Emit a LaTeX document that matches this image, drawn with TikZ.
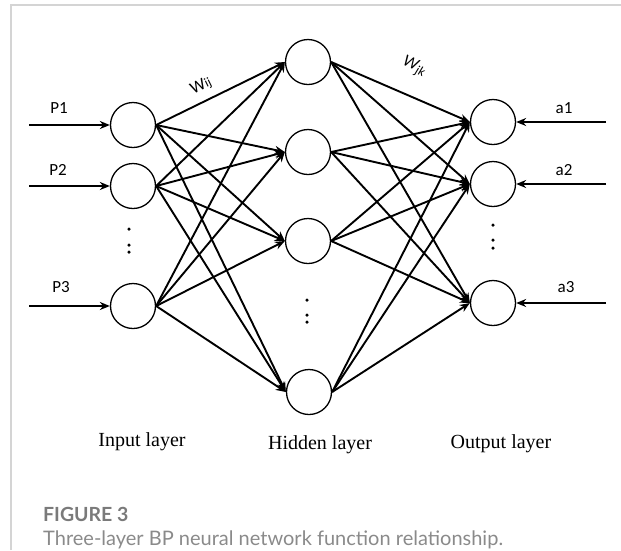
\documentclass[tikz,border=0pt]{standalone}
\usepackage{fontspec}
\setmainfont{Liberation Serif}
\newfontfamily\calfont{Carlito}
\newfontfamily\capfont{Lato}
\usetikzlibrary{arrows.meta}
\definecolor{framegray}{HTML}{D4D4D4}
\definecolor{capgray}{HTML}{8A8A8A}
\definecolor{headgray}{HTML}{7A7A7A}
\begin{document}
\begin{tikzpicture}[x=1pt,y=-1pt,
 neuron/.style={circle,draw,line width=1.3pt,minimum size=45pt,inner sep=0pt},
 conn/.style={line width=1.9pt,-{Stealth[length=10pt,width=8pt]}},
 lbl/.style={font=\calfont\fontsize{17}{19}\selectfont,inner sep=0pt},
 layer/.style={font=\fontsize{20}{24}\selectfont,inner sep=0pt},
 dotc/.style={fill,circle,inner sep=0pt,minimum size=3.5pt}]
\useasboundingbox (0,0) rectangle (621,550);
\draw[line width=1.5pt, color=framegray] (11,550) -- (11,5) -- (621,5);
% neurons
\node[neuron] (i1) at (133,125) {};
\node[neuron] (i2) at (133,186) {};
\node[neuron] (i3) at (133,306) {};
\node[neuron] (h1) at (308,62) {};
\node[neuron] (h2) at (308,152) {};
\node[neuron] (h3) at (308,241) {};
\node[neuron] (h4) at (309,392) {};
\node[neuron] (o1) at (493,122) {};
\node[neuron] (o2) at (493,184) {};
\node[neuron] (o3) at (493,303) {};
% connections
\foreach \a in {i1,i2,i3}
  \foreach \b in {h1,h2,h3,h4}
    \draw[conn] (\a.east) -- (\b.west);
\foreach \a in {h1,h2,h3,h4}
  \foreach \b in {o1,o2,o3}
    \draw[conn] (\a.east) -- (\b.west);
% inputs
\coordinate (p1) at (29,125);
\coordinate (p2) at (29,186);
\coordinate (p3) at (29,306);
\draw[conn] (p1) -- (i1.west);
\draw[conn] (p2) -- (i2.west);
\draw[conn] (p3) -- (i3.west);
\coordinate (q1) at (606,122);
\coordinate (q2) at (606,184);
\coordinate (q3) at (606,303);
\draw[conn] (q1) -- (o1.east);
\draw[conn] (q2) -- (o2.east);
\draw[conn] (q3) -- (o3.east);
% labels
\node[lbl] (lp1) at (59,108) {P1};
\node[lbl] (lp2) at (58,170) {P2};
\node[lbl] (lp3) at (61,287) {P3};
\node[lbl] (la1) at (564,108) {a1};
\node[lbl] (la2) at (564,170) {a2};
\node[lbl] (la3) at (566,287) {a3};
\node[lbl,rotate=26] (wij) at (201,86) {W{\fontsize{13}{14}\selectfont ij}};
\node[lbl,rotate=-24] (wjk) at (414,67) {\itshape W\raisebox{-0.35ex}{\fontsize{13}{14}\selectfont jk}};
% dots
\foreach \n/\x/\y in {da/129/229,db/129/245,dc/129/252,
                      ea/307/300,eb/307/315,ec/307/322,
                      fa/493/225,fb/493/240,fc/493/248}
  \node[dotc] (\n) at (\x,\y) {};
% layer names
\node[layer] (nin) at (142,442) {Input layer};
\node[layer] (nhid) at (320,445) {Hidden layer};
\node[layer] (nout) at (501,444) {Output layer};
% caption
\node[anchor=west,inner sep=0pt,text=headgray,font=\capfont\bfseries\fontsize{19.5}{22}\selectfont] (fig) at (43,514) {FIGURE 3};
\node[anchor=west,inner sep=0pt,text=capgray,font=\capfont\fontsize{20}{24}\selectfont] (cap) at (43,540) {Three-layer BP neural network function relationship.};
\end{tikzpicture}
\end{document}
